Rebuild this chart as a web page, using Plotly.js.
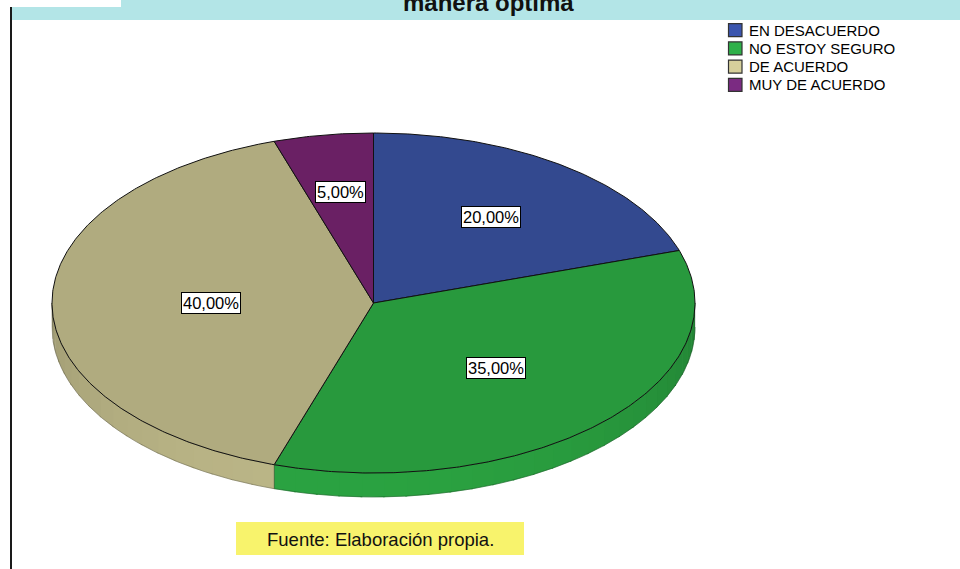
<!DOCTYPE html>
<html>
<head>
<meta charset="utf-8">
<script src="https://cdn.plot.ly/plotly-3.0.1.min.js"></script>
<style>html,body{margin:0;padding:0;background:#fff;}#chart{width:960px;height:569px;}</style>
</head>
<body>
<div id="chart"></div>
<script>
// ---- data ----
const categories = ['EN DESACUERDO', 'NO ESTOY SEGURO', 'DE ACUERDO', 'MUY DE ACUERDO'];
const values = [20, 35, 40, 5];
const valueLabels = ['20,00%', '35,00%', '40,00%', '5,00%'];
const titleText = 'manera óptima';
const sourceText = 'Fuente: Elaboración propia.';

// ---- styles ----
const colors = ['#33498f', '#28993d', '#b0ab7f', '#6a2064'];
const legendColors = ['#3b55ae', '#2fb04a', '#d6d09b', '#7b2b82'];
const FONT = 'Liberation Sans, Arial, sans-serif';

// ellipse geometry (pixel-based axes)
const cx = 373.5, cy = 303, rx = 321.5, ry = 170, depth = 24;
const rad = d => d * Math.PI / 180;
const px = (a, r = 1) => cx + rx * r * Math.sin(rad(a));
const py = (a, r = 1, dy = 0) => cy - ry * r * Math.cos(rad(a)) + dy;

function shade(hex, f) {
  const n = parseInt(hex.slice(1), 16);
  const c = [(n >> 16) & 255, (n >> 8) & 255, n & 255].map(v => Math.max(0, Math.min(255, Math.round(v * f))));
  return 'rgb(' + c.join(',') + ')';
}
function arc(a1, a2, dy = 0) {
  const xs = [], ys = [];
  const n = Math.max(2, Math.ceil(Math.abs(a2 - a1) / 0.5));
  for (let i = 0; i <= n; i++) {
    const a = a1 + (a2 - a1) * i / n;
    xs.push(px(a)); ys.push(py(a, 1, dy));
  }
  return [xs, ys];
}

const total = values.reduce((s, v) => s + v, 0);
const wallTraces = [], faceTraces = [], annotations = [];
let start = 0;
values.forEach((v, i) => {
  const a1 = start, a2 = start + v / total * 360;
  start = a2;
  // side wall (front half only: 90..270 deg clockwise from top)
  const b1 = Math.max(a1, 90), b2 = Math.min(a2, 270);
  if (b2 > b1) {
    const step = 4;
    for (let s = b1; s < b2; s += step) {
      const e = Math.min(b2, s + step + 0.3);
      const mid = (s + e) / 2;
      const f = 0.88 + 0.18 * Math.cos(rad(mid - 188));
      const [tx, ty] = arc(s, e);
      const [bx, by] = arc(e, s, depth);
      const col = shade(colors[i], f);
      wallTraces.push({type: 'scatter', mode: 'lines', x: tx.concat(bx), y: ty.concat(by), fill: 'toself',
        fillcolor: col, line: {color: col, width: 0.6}, showlegend: false, hoverinfo: 'skip'});
    }
    const [tx, ty] = arc(b1, b2);
    const [bx, by] = arc(b2, b1, depth);
    wallTraces.push({type: 'scatter', mode: 'lines', x: tx.concat(bx, [tx[0]]), y: ty.concat(by, [ty[0]]),
      line: {color: 'rgba(0,0,0,0.35)', width: 0.7}, showlegend: false, hoverinfo: 'skip'});
  }
  // top face
  const [ax, ay] = arc(a1, a2);
  faceTraces.push({type: 'scatter', mode: 'lines', name: categories[i],
    x: [cx].concat(ax, [cx]), y: [cy].concat(ay, [cy]), fill: 'toself',
    fillcolor: colors[i], line: {color: '#111', width: 1}, showlegend: false, hoverinfo: 'skip'});
  // label at sector centroid
  const half = rad((a2 - a1) / 2);
  const c = 2 * Math.sin(half) / (3 * half);
  const m = (a1 + a2) / 2;
  annotations.push({x: px(m, c), y: py(m, c), xref: 'x', yref: 'y', text: valueLabels[i], showarrow: false,
    font: {family: FONT, size: 16.5, color: '#000'}, bgcolor: '#fff', bordercolor: '#000', borderwidth: 1, borderpad: 1});
});

// frame and legend (manual, SPSS style)
const shapes = [
  {type: 'rect', xref: 'x', yref: 'y', x0: 121, x1: 960, y0: 0, y1: 20, fillcolor: '#b3e5e7', line: {width: 0}, layer: 'below'},
  {type: 'rect', xref: 'x', yref: 'y', x0: 12, x1: 121, y0: 7, y1: 20, fillcolor: '#b3e5e7', line: {width: 0}, layer: 'below'},
  {type: 'line', xref: 'x', yref: 'y', x0: 11, x1: 11, y0: 7, y1: 569, line: {color: '#1a1a1a', width: 2}},
  {type: 'rect', xref: 'x', yref: 'y', x0: 236, x1: 524, y0: 522, y1: 555, fillcolor: '#f8f36c', line: {width: 0}, layer: 'below'}
];
categories.forEach((c, i) => {
  const yc = 30.2 + i * 18.2;
  shapes.push({type: 'rect', xref: 'x', yref: 'y', x0: 728.5, x1: 742, y0: yc - 6.5, y1: yc + 6.5,
    fillcolor: legendColors[i], line: {color: '#333', width: 1.2}});
  annotations.push({x: 747, y: yc, xref: 'x', yref: 'y', xanchor: 'left', yanchor: 'middle', text: c, showarrow: false,
    font: {family: FONT, size: 15, color: '#000'}});
});
annotations.push({x: 488, y: 2, xref: 'x', yref: 'y', text: '<b>' + titleText + '</b>', showarrow: false,
  xanchor: 'center', yanchor: 'middle', font: {family: FONT, size: 24, color: '#111'}});
annotations.push({x: 380, y: 539, xref: 'x', yref: 'y', text: sourceText, showarrow: false,
  font: {family: FONT, size: 18.5, color: '#111'}});

const layout = {
  width: 960, height: 569, margin: {l: 0, r: 0, t: 0, b: 0},
  paper_bgcolor: '#fff', plot_bgcolor: '#fff', showlegend: false,
  xaxis: {range: [0, 960], visible: false, fixedrange: true},
  yaxis: {range: [569, 0], visible: false, fixedrange: true},
  shapes: shapes, annotations: annotations
};
Plotly.newPlot('chart', wallTraces.concat(faceTraces), layout, {staticPlot: true, displayModeBar: false});
</script>
</body>
</html>
